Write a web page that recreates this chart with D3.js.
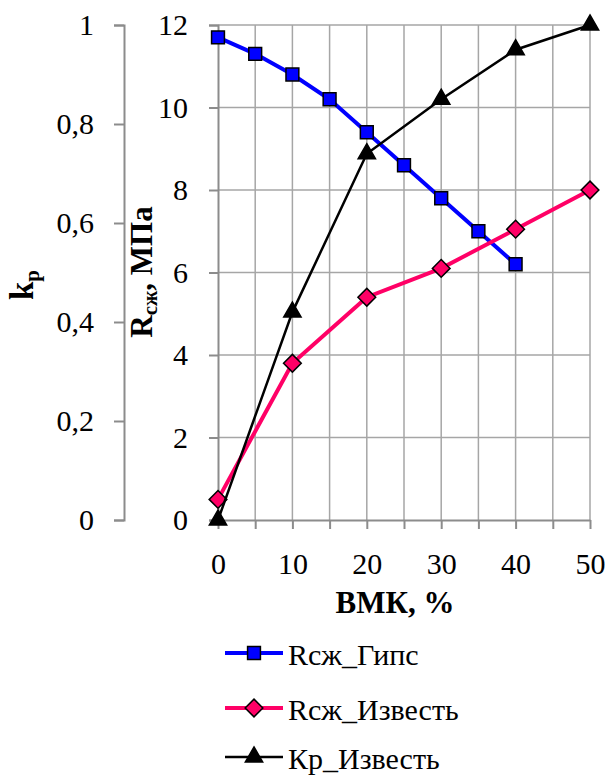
<!DOCTYPE html>
<html lang="ru">
<head>
    <meta charset="UTF-8">
    <title>Rсж / Kp</title>
    <script src="https://d3js.org/d3.v7.min.js"></script>
    <style>
        body { margin: 0; background: #fff; }
        text { font-family: "Liberation Serif", "Tinos", "DejaVu Serif", serif; fill: #000; }
    </style>
</head>
<body>
<div id="chart"></div>
<script>
    // data
    var xGips = [0, 5, 10, 15, 20, 25, 30, 35, 40];
    var rGips = [11.7, 11.3, 10.8, 10.2, 9.4, 8.6, 7.8, 7.0, 6.2];

    var xIzv = [0, 10, 20, 30, 40, 50];
    var rIzv = [0.5, 3.8, 5.4, 6.1, 7.05, 8.0];
    var kpIzv = [0, 0.42, 0.74, 0.85, 0.95, 1.0];

    var legendNames = ["Rсж_Гипс", "Rсж_Известь", "Кр_Известь"];

    var width = 611, height = 776;
    var serif = "'Liberation Serif', 'Tinos', 'DejaVu Serif', serif";

    var svg = d3.select("#chart").append("svg")
        .attr("width", width)
        .attr("height", height);

    svg.append("rect").attr("width", width).attr("height", height).attr("fill", "#fff");

    // scales
    var x = d3.scaleLinear().domain([0, 50]).range([218, 590]);
    var yR = d3.scaleLinear().domain([0, 12]).range([520, 25]);
    var yK = d3.scaleLinear().domain([0, 1]).range([520, 25]);

    var comma = function (d) { return String(d).replace(".", ","); };

    // grid
    var grid = svg.append("g");
    grid.selectAll(".gx").data(d3.range(5, 51, 5)).enter().append("line")
        .attr("x1", d => x(d)).attr("x2", d => x(d))
        .attr("y1", yR(0)).attr("y2", yR(12))
        .attr("stroke", "#a6a6a6").attr("stroke-width", 1.5);
    grid.selectAll(".gy").data(d3.range(2, 13, 2)).enter().append("line")
        .attr("x1", x(0)).attr("x2", x(50))
        .attr("y1", d => yR(d)).attr("y2", d => yR(d))
        .attr("stroke", "#a6a6a6").attr("stroke-width", 1.5);

    function styleAxis(g) {
        g.attr("font-family", serif);
        g.select(".domain").attr("stroke", "#8c8c8c").attr("stroke-width", 2);
        g.selectAll(".tick line").attr("stroke", "#8c8c8c").attr("stroke-width", 2);
        g.selectAll("text").attr("font-size", 30).attr("fill", "#000");
    }

    // kp axis (far left)
    svg.append("g")
        .attr("transform", "translate(124,0)")
        .call(d3.axisLeft(yK).tickValues([0, 0.2, 0.4, 0.6, 0.8, 1])
            .tickFormat(comma).tickSize(10).tickPadding(20).tickSizeOuter(10))
        .call(styleAxis);

    // R axis
    svg.append("g")
        .attr("transform", "translate(218,0)")
        .call(d3.axisLeft(yR).tickValues(d3.range(0, 13, 2))
            .tickSize(9).tickPadding(21).tickSizeOuter(9))
        .call(styleAxis);

    // x axis
    svg.append("g")
        .attr("transform", "translate(0,520)")
        .call(d3.axisBottom(x).tickValues(d3.range(0, 51, 5))
            .tickFormat(d => d % 10 === 0 ? d : "")
            .tickSize(9).tickPadding(24).tickSizeOuter(0))
        .call(styleAxis);

    // axis titles
    svg.append("text")
        .attr("x", 395).attr("y", 613)
        .attr("text-anchor", "middle")
        .attr("font-size", 31).attr("font-weight", "bold")
        .text("ВМК, %");

    var rt = svg.append("text")
        .attr("transform", "translate(152,272) rotate(-90)")
        .attr("text-anchor", "middle")
        .attr("font-size", 31).attr("font-weight", "bold");
    rt.append("tspan").text("R");
    rt.append("tspan").attr("font-size", 21).attr("dy", 5).text("сж");
    rt.append("tspan").attr("dy", -5).text(", МПа");

    var kt = svg.append("text")
        .attr("transform", "translate(33,285) rotate(-90)")
        .attr("text-anchor", "middle")
        .attr("font-size", 33).attr("font-weight", "bold");
    kt.append("tspan").text("k");
    kt.append("tspan").attr("font-size", 21).attr("dy", 6).text("p");

    // series
    var line = d3.line();

    function ptsR(xs, ys) { return xs.map((d, i) => [x(d), yR(ys[i])]); }
    function ptsK(xs, ys) { return xs.map((d, i) => [x(d), yK(ys[i])]); }

    var sq = d3.symbol().type(d3.symbolSquare).size(165);
    var dm = d3.symbol().type(d3.symbolDiamond2).size(200);
    var tr = d3.symbol().type(d3.symbolTriangle).size(130);

    var series = [
        { pts: ptsR(xGips, rGips), color: "#0000ff", w: 4, sym: sq, fill: "#0000ff" },
        { pts: ptsR(xIzv, rIzv), color: "#ff0066", w: 4, sym: dm, fill: "#ff0066" },
        { pts: ptsK(xIzv, kpIzv), color: "#000", w: 2.5, sym: tr, fill: "#000" }
    ];

    series.forEach(function (s) {
        svg.append("path")
            .attr("d", line(s.pts))
            .attr("fill", "none")
            .attr("stroke", s.color)
            .attr("stroke-width", s.w);
        svg.append("g").selectAll("path").data(s.pts).enter().append("path")
            .attr("transform", d => "translate(" + d[0] + "," + d[1] + ")")
            .attr("d", s.sym())
            .attr("fill", s.fill)
            .attr("stroke", "#000")
            .attr("stroke-width", 1.5);
    });

    // legend
    var legY = [653, 708, 757];
    var leg = svg.append("g");
    series.forEach(function (s, i) {
        leg.append("line")
            .attr("x1", 225).attr("x2", 283)
            .attr("y1", legY[i]).attr("y2", legY[i])
            .attr("stroke", s.color).attr("stroke-width", s.w);
        leg.append("path")
            .attr("transform", "translate(254," + legY[i] + ")")
            .attr("d", s.sym())
            .attr("fill", s.fill)
            .attr("stroke", "#000")
            .attr("stroke-width", 1.5);
        leg.append("text")
            .attr("x", 288).attr("y", legY[i] + 12)
            .attr("font-size", 30)
            .text(legendNames[i]);
    });
</script>
</body>
</html>
